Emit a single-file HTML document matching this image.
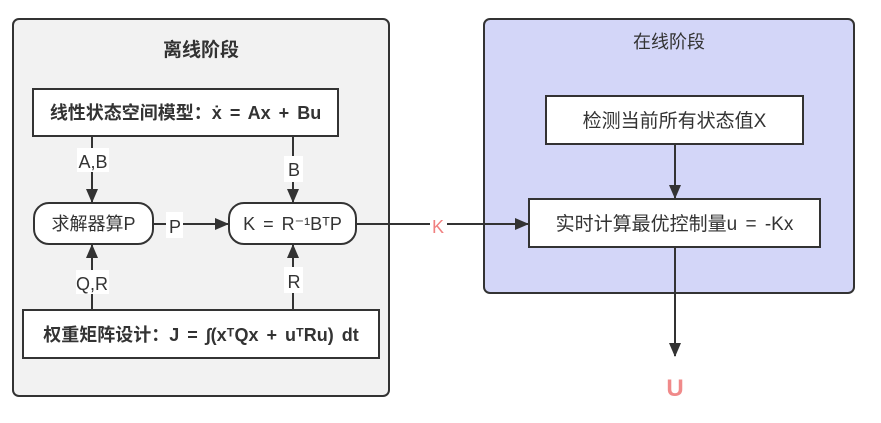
<!DOCTYPE html>
<html><head><meta charset="utf-8"><style>
body{margin:0;background:#fff;}
svg text{font-family:"Liberation Sans","Noto Sans CJK SC",sans-serif;}
</style></head><body>
<svg width="881" height="418" viewBox="0 0 881 418" xmlns="http://www.w3.org/2000/svg">
<defs>
<marker id="b" markerWidth="14" markerHeight="12" refX="13" refY="6" orient="auto" markerUnits="userSpaceOnUse"><path d="M0,0 L14,6 L0,12 z" fill="#333"/></marker></defs>
<rect x="13" y="19" width="376" height="377" rx="6" fill="#f2f2f2" stroke="#333" stroke-width="2"/>
<text x="201" y="56" font-size="19" font-weight="bold" text-anchor="middle" fill="#333">离线阶段</text>
<rect x="484" y="19" width="370" height="274" rx="6" fill="#d3d6f8" stroke="#333" stroke-width="2"/>
<text x="669" y="48" font-size="18" text-anchor="middle" fill="#333">在线阶段</text>

<rect x="33" y="89" width="305" height="47" fill="#fff" stroke="#333" stroke-width="2"/>
<text x="185.5" y="119" font-size="18" font-weight="bold" text-anchor="middle" fill="#333" word-spacing="3">线性状态空间模型：ẋ = Ax + Bu</text>
<rect x="34" y="203" width="119" height="41" rx="15" fill="#fff" stroke="#333" stroke-width="2"/>
<text x="93.5" y="230" font-size="18" text-anchor="middle" fill="#333">求解器算P</text>
<rect x="229" y="203" width="127" height="41" rx="15" fill="#fff" stroke="#333" stroke-width="2"/>
<text x="292.5" y="230" font-size="18" text-anchor="middle" fill="#333" word-spacing="3">K = R⁻¹BᵀP</text>
<rect x="23" y="310" width="356" height="48" fill="#fff" stroke="#333" stroke-width="2"/>
<text x="201" y="341" font-size="18" font-weight="bold" text-anchor="middle" fill="#333" word-spacing="3">权重矩阵设计：J = ∫(xᵀQx + uᵀRu) dt</text>

<line x1="92" y1="136" x2="92" y2="202" stroke="#333" stroke-width="2" marker-end="url(#b)"/>
<rect x="77" y="148" width="32" height="24" fill="#fff"/><text x="93" y="168" font-size="18" text-anchor="middle" fill="#333">A,B</text>
<line x1="293" y1="136" x2="293" y2="202" stroke="#333" stroke-width="2" marker-end="url(#b)"/>
<rect x="284" y="156" width="19" height="26" fill="#fff"/><text x="294" y="176" font-size="18" text-anchor="middle" fill="#333">B</text>
<line x1="92" y1="310" x2="92" y2="245" stroke="#333" stroke-width="2" marker-end="url(#b)"/>
<rect x="76" y="270" width="33" height="24" fill="#fff"/><text x="92" y="290" font-size="18" text-anchor="middle" fill="#333">Q,R</text>
<line x1="293" y1="310" x2="293" y2="245" stroke="#333" stroke-width="2" marker-end="url(#b)"/>
<rect x="284" y="267" width="19" height="26" fill="#fff"/><text x="294" y="288" font-size="18" text-anchor="middle" fill="#333">R</text>
<line x1="153" y1="224" x2="228" y2="224" stroke="#333" stroke-width="2" marker-end="url(#b)"/>
<rect x="166" y="212" width="17" height="26" fill="#fff"/><text x="175" y="233" font-size="18" text-anchor="middle" fill="#333">P</text>

<line x1="356" y1="224" x2="528" y2="224" stroke="#333" stroke-width="2" marker-end="url(#b)"/>
<rect x="430" y="212" width="17" height="26" fill="#fff"/><text x="438" y="233" font-size="18" text-anchor="middle" fill="#f08080">K</text>

<rect x="546" y="96" width="257" height="48" fill="#fff" stroke="#333" stroke-width="2"/>
<text x="674.5" y="127" font-size="19" text-anchor="middle" fill="#333">检测当前所有状态值X</text>
<line x1="675" y1="144" x2="675" y2="198" stroke="#333" stroke-width="2" marker-end="url(#b)"/>
<rect x="529" y="199" width="291" height="48" fill="#fff" stroke="#333" stroke-width="2"/>
<text x="674.5" y="230" font-size="19" text-anchor="middle" fill="#333" word-spacing="3">实时计算最优控制量u = -Kx</text>
<line x1="675" y1="247" x2="675" y2="356" stroke="#333" stroke-width="2" marker-end="url(#b)"/>
<text x="675" y="396" font-size="24" font-weight="bold" text-anchor="middle" fill="#f08a8a">U</text>
</svg>
</body></html>
